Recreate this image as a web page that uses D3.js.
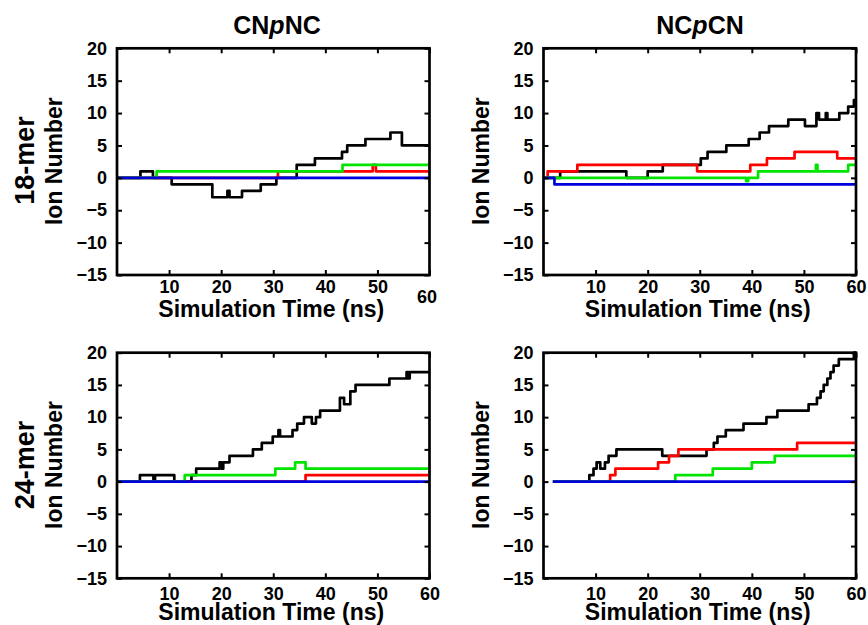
<!DOCTYPE html>
<html>
<head>
<meta charset="utf-8">
<script src="https://cdn.jsdelivr.net/npm/d3@7"></script>
<style>
  body { margin: 0; background: #fff; }
  text { font-family: "Liberation Sans", Arial, sans-serif; font-weight: bold; fill: #000; }
</style>
</head>
<body>
<svg id="chart"></svg>
<script>
(function () {
  'use strict';

  // ion counts per run, [time (ns), number] change points
  var tlBlack = [[0,0],[4.5,1],[6.9,0],[10.5,-1],[18.3,-3],[21.2,-2],[21.6,-3],[24,-2],[27.6,-1],[30.6,0],[34.5,2],[38,3],[43.2,4],[44.2,5],[47.7,6],[52.5,7],[54.7,5],[60,5]];
  var tlRed   = [[0,0],[30.9,1],[49.1,2],[49.7,1],[60,1]];
  var tlGreen = [[0,0],[7.6,1],[43.3,2],[60,2]];
  var tlBlue  = [[0,0],[60,0]];

  var trBlack = [[0,0],[3.2,1],[15.9,0],[20,1],[22.9,2],[30.2,3],[31.5,4],[35.1,5],[39.4,6],[41.5,7],[43.3,8],[47,9],[50.2,8],[52.4,10],[52.9,9],[54.2,10],[54.5,9],[56.8,10],[58.5,11],[59.6,12],[60,12]];
  var trRed   = [[0,0],[0.8,1],[6.5,2],[29.5,1],[39.7,2],[42.9,3],[48.2,4],[56.4,3],[60,3]];
  var trGreen = [[0,0],[38.9,-0.5],[39.3,0],[41.2,1],[52.3,2],[52.6,1],[58.5,2],[60,2]];
  var trBlue  = [[0,0],[2.1,-1],[60,-1]];

  var blBlack = [[0,0],[4.4,1],[7.0,0],[7.3,1],[11,0],[14.3,1],[15.2,2],[19.7,3],[20.1,2],[20.4,3],[21.6,4],[26.1,5],[27.8,6],[29.9,7],[31,8],[31.3,7],[33.7,8],[34.6,9],[35.9,10],[37.4,9],[38.2,10],[39,11],[42.8,13],[43.6,12],[44.8,14],[45.8,15],[52.3,16],[55.6,17],[55.9,16],[56.2,17],[60,17]];
  var blRed   = [[0,0],[36.2,1],[60,1]];
  var blGreen = [[0,0],[13,1],[30.4,2],[34.2,3],[36.2,2],[60,2]];
  var blBlue  = [[0,0],[60,0]];

  var brBlack = [[1.8,0],[8.8,1],[9.6,2],[10.2,3],[10.9,2],[11.8,3],[12.5,4],[14,5],[22.8,4],[31.3,5],[32.7,6],[33.4,7],[35,8],[38.4,9],[42.8,10],[44.9,11],[50.9,12],[52.5,13],[53.2,14],[53.8,15],[54.5,16],[55.1,17],[55.7,18],[56.7,19],[59.6,20],[60,20]];
  var brRed   = [[1.8,0],[12.8,1],[13.8,2],[22,3],[24.1,4],[25.9,5],[48.7,6],[60,6]];
  var brGreen = [[1.8,0],[25.3,1],[32.5,2],[40,3],[44.4,4],[60,4]];
  var brBlue  = [[1.8,0],[60,0]];

  var xTicks = [10, 20, 30, 40, 50, 60];
  var yTicks = [-15, -10, -5, 0, 5, 10, 15, 20];
  var colTitles = ["CN", "NC"]; // built with the italic p below
  var rowLabels = ["18-mer", "24-mer"];
  var colours = ["#000000", "#ff0000", "#00e400", "#0000dd"]; // black, red, green, blue

  var svgW = 868, svgH = 625;

  var panels = [
    { x0: 117,   x1: 429.5, y0: 48.3,  y1: 275,   pad: 5.5, series: [tlBlack, tlRed, tlGreen, tlBlue] },
    { x0: 543.5, x1: 856,   y0: 48.3,  y1: 275,   pad: 5.5, series: [trBlack, trRed, trGreen, trBlue] },
    { x0: 117,   x1: 429.5, y0: 352.7, y1: 578.3, pad: 9,   series: [blBlack, blRed, blGreen, blBlue] },
    { x0: 543.5, x1: 856,   y0: 352.7, y1: 578.3, pad: 9,   series: [brBlack, brRed, brGreen, brBlue] }
  ];

  var svg = d3.select("#chart").attr("width", svgW).attr("height", svgH);

  panels.forEach(function (p, idx) {
    var x = d3.scaleLinear().domain([0, 60]).range([p.x0, p.x1]);
    var y = d3.scaleLinear().domain([-15, 20]).range([p.y1, p.y0]);
    var g = svg.append("g");

    var line = d3.line()
      .curve(d3.curveStepAfter)
      .x(function (d) { return x(d[0]); })
      .y(function (d) { return y(d[1]); });

    g.selectAll("path.run").data(p.series).enter()
      .append("path")
      .attr("class", "run")
      .attr("d", line)
      .attr("fill", "none")
      .attr("stroke", function (d, i) { return colours[i]; })
      .attr("stroke-width", 2.7)
      .attr("stroke-linejoin", "round");

    // bottom axis (inward ticks, MATLAB style)
    var bottom = g.append("g")
      .attr("transform", "translate(0," + p.y1 + ")")
      .call(d3.axisBottom(x).tickValues(xTicks).tickSizeInner(-5).tickSizeOuter(0).tickPadding(p.pad));
    g.append("g")
      .attr("transform", "translate(0," + p.y0 + ")")
      .call(d3.axisTop(x).tickValues(xTicks).tickSizeInner(-5).tickSizeOuter(0).tickFormat(""));
    g.append("g")
      .attr("transform", "translate(" + p.x0 + ",0)")
      .call(d3.axisLeft(y).tickValues(yTicks).tickSizeInner(-5).tickSizeOuter(0).tickPadding(10));
    g.append("g")
      .attr("transform", "translate(" + p.x1 + ",0)")
      .call(d3.axisRight(y).tickValues(yTicks).tickSizeInner(-5).tickSizeOuter(0).tickFormat(""));

    g.selectAll(".domain").remove();
    g.selectAll(".tick line").attr("stroke", "#000").attr("stroke-width", 2);
    g.selectAll(".tick text")
      .attr("fill", "#000")
      .style("font-size", "18px")
      .style("font-family", '"Liberation Sans", Arial, sans-serif')
      .style("font-weight", "bold");

    // the 60 label sits low in the first panel
    if (idx === 0) {
      bottom.selectAll(".tick").filter(function (d) { return d === 60; })
        .select("text").attr("x", -3).attr("y", p.pad + 10);
    }

    g.append("rect")
      .attr("x", p.x0).attr("y", p.y0)
      .attr("width", p.x1 - p.x0).attr("height", p.y1 - p.y0)
      .attr("fill", "none").attr("stroke", "#000").attr("stroke-width", 2.7);

    var cx = (p.x0 + p.x1) / 2;
    var cy = (p.y0 + p.y1) / 2;

    g.append("text")
      .attr("x", cx - 2).attr("y", p.y1 + 42)
      .attr("text-anchor", "middle")
      .style("font-size", "23px")
      .text("Simulation Time (ns)");

    var ionX = p.x0 - 55;
    g.append("text")
      .attr("transform", "translate(" + ionX + "," + (cy - 0.5) + ") rotate(-90)")
      .attr("text-anchor", "middle")
      .style("font-size", "23px")
      .text("Ion Number");
  });

  // column titles with the italic p
  [277, 700].forEach(function (cx, i) {
    var t = svg.append("text")
      .attr("x", cx).attr("y", 34)
      .attr("text-anchor", "middle")
      .style("font-size", "25px");
    t.append("tspan").text(colTitles[i]);
    t.append("tspan").style("font-style", "italic").text("p");
    t.append("tspan").text(i === 0 ? "NC" : "CN");
  });

  // row labels
  [160.5, 465].forEach(function (cy, i) {
    svg.append("text")
      .attr("transform", "translate(33.5," + cy + ") rotate(-90)")
      .attr("text-anchor", "middle")
      .style("font-size", "27px")
      .text(rowLabels[i]);
  });
}());
</script>
</body>
</html>
